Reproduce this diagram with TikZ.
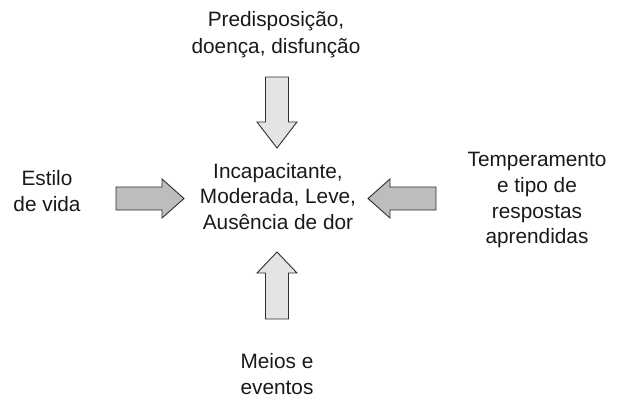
\documentclass[tikz,border=0pt]{standalone}
\usepackage{fontspec}
\setmainfont{Liberation Sans}
\definecolor{lightfill}{HTML}{E3E4E6}
\definecolor{darkfill}{HTML}{BCBDBF}
\definecolor{edge}{HTML}{2E2E2E}
\begin{document}
\begin{tikzpicture}[x=1pt,y=-1pt,
  lbl/.style={align=center, inner sep=0pt, anchor=north, text=black!90},
  blockarrow/.style={draw=edge, line width=0.9pt, line join=miter}]
\useasboundingbox (0,0) rectangle (621,399);
% labels
\node[lbl, font=\fontsize{20.8}{27}\selectfont] (top) at (276,7.4) {\strut Predisposição,\\\strut doença, disfunção};
\node[lbl, font=\fontsize{20.8}{25.5}\selectfont] (center) at (278,160.4) {\strut Incapacitante,\\\strut Moderada, Leve,\\\strut Ausência de dor};
\node[lbl, font=\fontsize{20.8}{25.7}\selectfont] (right) at (537,148.7) {\strut Temperamento\\\strut e tipo de\\\strut respostas\\\strut aprendidas};
\node[lbl, font=\fontsize{20.8}{26.7}\selectfont] (left) at (47,166.3) {\strut Estilo\\\strut de vida};
\node[lbl, font=\fontsize{20.8}{26}\selectfont] (bottom) at (277,349.8) {\strut Meios e\\\strut eventos};
% block arrows
% top (pointing down)
\draw[blockarrow, fill=lightfill] (265.5,77) -- (288.5,77) -- (288.5,122) -- (297,122) -- (277,148) -- (257,122) -- (265.5,122) -- cycle;
% bottom (pointing up)
\draw[blockarrow, fill=lightfill] (265.5,319) -- (288.5,319) -- (288.5,273) -- (297,273) -- (277,252) -- (257,273) -- (265.5,273) -- cycle;
% left (pointing right)
\draw[blockarrow, fill=darkfill] (116,187) -- (162,187) -- (162,179) -- (184,198.5) -- (162,218) -- (162,210) -- (116,210) -- cycle;
% right (pointing left)
\draw[blockarrow, fill=darkfill] (436,187) -- (390,187) -- (390,179) -- (368,198.5) -- (390,218) -- (390,210) -- (436,210) -- cycle;
\end{tikzpicture}
\end{document}
